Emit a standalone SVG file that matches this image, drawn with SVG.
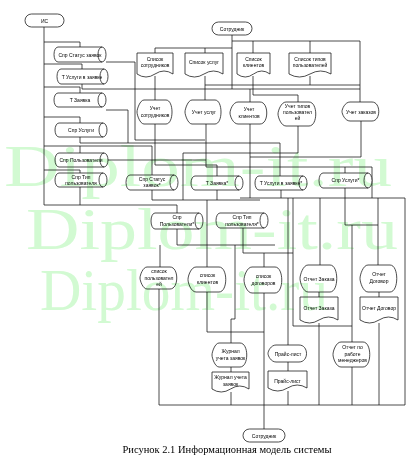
<svg xmlns="http://www.w3.org/2000/svg" width="410" height="460" viewBox="0 0 410 460">
<style>
.n{fill:#fff;stroke:#111;stroke-width:0.75}
.c{fill:none;stroke:#111;stroke-width:0.75}
.t{font-family:"Liberation Sans",Arial,sans-serif;font-size:5px;text-anchor:middle;fill:#000}
.wm{font-family:"Liberation Serif","Times New Roman",serif;font-size:60px;fill:#d2fad2;mix-blend-mode:multiply}
.cap{font-family:"Liberation Serif","Times New Roman",serif;font-size:10.5px;text-anchor:middle;fill:#000}
</style>
<rect width="410" height="460" fill="#fff"/>
<g id="connectors">
<path class="c" d="M44,27 V205 H177 V213"/>
<path class="c" d="M44,42 H80 V47"/>
<path class="c" d="M44,64 H82 V69"/>
<path class="c" d="M44,87 H80 V93"/>
<path class="c" d="M44,117 H80 V123"/>
<path class="c" d="M44,146 H152 V175"/>
<path class="c" d="M80,146 V153"/>
<path class="c" d="M44,170 H80 V173"/>
<path class="c" d="M80,187 V205"/>
<path class="c" d="M232,35 V48 H155 V53"/>
<path class="c" d="M205,48 V53"/>
<path class="c" d="M232,41 H360 V102"/>
<path class="c" d="M253,41 V53"/>
<path class="c" d="M310,41 V53"/>
<path class="c" d="M232,48 V89"/>
<path class="c" d="M155,76 V100"/>
<path class="c" d="M205,76 V100"/>
<path class="c" d="M253,76 V95 H298 V102"/>
<path class="c" d="M250,89 V102"/>
<path class="c" d="M310,76 V85"/>
<path class="c" d="M106,62 H135 V140 H205"/>
<path class="c" d="M82,84 V89 H360"/>
<path class="c" d="M205,85 H360"/>
<path class="c" d="M106,110 H128 V143"/>
<path class="c" d="M80,137 V143 H280 V176"/>
<path class="c" d="M108,160 H206 V124"/>
<path class="c" d="M155,124 V165 H217 V176"/>
<path class="c" d="M250,124 V198"/>
<path class="c" d="M298,126 V153 H183 V200"/>
<path class="c" d="M361,121 V157 H250"/>
<path class="c" d="M206,160 V167 H372 V198"/>
<path class="c" d="M345,167 V173"/>
<path class="c" d="M152,190 V200 H260"/>
<path class="c" d="M217,190 V200"/>
<path class="c" d="M240,198 H405 V405"/>
<path class="c" d="M281,190 V198"/>
<path class="c" d="M345,188 V225 H378"/>
<path class="c" d="M378,198 V265"/>
<path class="c" d="M177,229 V245 H275"/>
<path class="c" d="M160,245 V267"/>
<path class="c" d="M207,200 V267"/>
<path class="c" d="M207,292 V332 H264"/>
<path class="c" d="M243,228 V253 H293 V198"/>
<path class="c" d="M264,253 V267"/>
<path class="c" d="M264,293 V429"/>
<path class="c" d="M235,245 V319 H231 V343"/>
<path class="c" d="M231,367 V372"/>
<path class="c" d="M231,392 V405"/>
<path class="c" d="M288,198 V345"/>
<path class="c" d="M288,362 V371"/>
<path class="c" d="M288,391 V405"/>
<path class="c" d="M320,198 V265"/>
<path class="c" d="M319,292 V297"/>
<path class="c" d="M319,323 V405"/>
<path class="c" d="M379,292 V297"/>
<path class="c" d="M379,323 V405"/>
<path class="c" d="M352,225 V342"/>
<path class="c" d="M352,367 V405"/>
<path class="c" d="M293,253 V326 H352"/>
<path class="c" d="M159,289 V405"/>
<path class="c" d="M159,405 H405"/>
</g>
<g id="is"><rect class="n" x="25" y="14" width="39" height="13" rx="6.5"/><text class="t" x="44.5" y="22.5">ИС</text></g>
<g id="sotrudnik-top"><rect class="n" x="212" y="22" width="40" height="13" rx="6.5"/><text class="t" x="232" y="30.5">Сотрудник</text></g>
<g id="spr-status"><path class="n" d="M58,47 H102 A4,7.5 0 0 1 102,62 H58 A4,7.5 0 0 1 58,47 Z M102,47 A4,7.5 0 0 0 102,62"/><text class="t" x="80" y="56.5">Спр Статус заявок</text></g>
<g id="t-uslugi"><path class="n" d="M61,69 H104 A4,7.5 0 0 1 104,84 H61 A4,7.5 0 0 1 61,69 Z M104,69 A4,7.5 0 0 0 104,84"/><text class="t" x="82" y="78.5">Т Услуги в заявке</text></g>
<g id="t-zayavka"><path class="n" d="M58,93 H102 A4,7 0 0 1 102,107 H58 A4,7 0 0 1 58,93 Z M102,93 A4,7 0 0 0 102,107"/><text class="t" x="80" y="101.5">Т Заявка</text></g>
<g id="spr-uslugi"><path class="n" d="M59,123 H103 A4,7 0 0 1 103,137 H59 A4,7 0 0 1 59,123 Z M103,123 A4,7 0 0 0 103,137"/><text class="t" x="81" y="131.5">Спр Услуги</text></g>
<g id="spr-polz"><path class="n" d="M59,153 H104 A4,7 0 0 1 104,167 H59 A4,7 0 0 1 59,153 Z M104,153 A4,7 0 0 0 104,167"/><text class="t" x="81" y="161.5">Спр Пользователи</text></g>
<g id="spr-tip"><path class="n" d="M59,173 H103 A4,7 0 0 1 103,187 H59 A4,7 0 0 1 59,173 Z M103,173 A4,7 0 0 0 103,187"/><text class="t" x="81" y="179">Спр Тип</text><text class="t" x="81" y="185">пользователя</text></g>
<g id="doc-sotr"><path class="n" d="M137,53 H173 V74 Q164,68 155,74 Q146,80 137,74 Z"/><text class="t" x="155" y="61">Список</text><text class="t" x="155" y="67">сотрудников</text></g>
<g id="doc-uslug"><path class="n" d="M185,53 H223 V74 Q213.5,68 204,74 Q194.5,80 185,74 Z"/><text class="t" x="204" y="64">Список услуг</text></g>
<g id="doc-klient"><path class="n" d="M237,53 H270 V74 Q261.75,68 253.5,74 Q245.25,80 237,74 Z"/><text class="t" x="253.5" y="61">Список</text><text class="t" x="253.5" y="67">клиентов</text></g>
<g id="doc-tipov"><path class="n" d="M289,53 H331 V74 Q320.5,68 310,74 Q299.5,80 289,74 Z"/><text class="t" x="310" y="61">Список типов</text><text class="t" x="310" y="67">пользователей</text></g>
<g id="uchet-sotr"><path class="n" d="M144,100 H166 C174,100 174,124 166,124 H144 C140,124 137,115 137,112 C137,109 140,100 144,100 Z"/><text class="t" x="155" y="110">Учет</text><text class="t" x="155" y="117">сотрудников</text></g>
<g id="uchet-uslug"><path class="n" d="M192,100 H215 C223,100 223,124 215,124 H192 C188,124 185,115 185,112 C185,109 188,100 192,100 Z"/><text class="t" x="204" y="114">Учет услуг</text></g>
<g id="uchet-klient"><path class="n" d="M238,102 H260 C269,102 269,124 260,124 H238 C233,124 230,116 230,113 C230,110 233,102 238,102 Z"/><text class="t" x="249" y="111">Учет</text><text class="t" x="249" y="118">клиентов</text></g>
<g id="uchet-tipov"><path class="n" d="M286,102 H309 C318,102 318,126 309,126 H286 C281,126 278,117 278,114 C278,111 281,102 286,102 Z"/><text class="t" x="297.5" y="108">Учет типов</text><text class="t" x="297.5" y="114">пользовател</text><text class="t" x="297.5" y="120">ей</text></g>
<g id="uchet-zakaz"><path class="n" d="M350,102 H372 C381,102 381,121 372,121 H350 C345,121 342,114 342,111.5 C342,109 345,102 350,102 Z"/><text class="t" x="361" y="113.5">Учет заказов</text></g>
<g id="spr-status2"><path class="n" d="M130,175 H174 A4,7.5 0 0 1 174,190 H130 A4,7.5 0 0 1 130,175 Z M174,175 A4,7.5 0 0 0 174,190"/><text class="t" x="152" y="181">Спр Статус</text><text class="t" x="152" y="187">заявок*</text></g>
<g id="t-zayavka2"><path class="n" d="M195,176 H239 A4,7 0 0 1 239,190 H195 A4,7 0 0 1 195,176 Z M239,176 A4,7 0 0 0 239,190"/><text class="t" x="217" y="184.5">Т Заявка*</text></g>
<g id="t-uslugi2"><path class="n" d="M259,176 H303 A4,7 0 0 1 303,190 H259 A4,7 0 0 1 259,176 Z M303,176 A4,7 0 0 0 303,190"/><text class="t" x="281" y="184.5">Т Услуги в заявке*</text></g>
<g id="spr-uslugi2"><path class="n" d="M323,173 H368 A4,7.5 0 0 1 368,188 H323 A4,7.5 0 0 1 323,173 Z M368,173 A4,7.5 0 0 0 368,188"/><text class="t" x="345.5" y="182">Спр Услуги*</text></g>
<g id="spr-polz2"><path class="n" d="M155,213 H199 A4,8 0 0 1 199,229 H155 A4,8 0 0 1 155,213 Z M199,213 A4,8 0 0 0 199,229"/><text class="t" x="177" y="219">Спр</text><text class="t" x="177" y="226">Пользователи*</text></g>
<g id="spr-tip2"><path class="n" d="M220,213 H264 A4,7.5 0 0 1 264,228 H220 A4,7.5 0 0 1 220,213 Z M264,213 A4,7.5 0 0 0 264,228"/><text class="t" x="242" y="219">Спр Тип</text><text class="t" x="242" y="225.5">пользователя*</text></g>
<g id="spisok-polz"><path class="n" d="M147,267 H170 C179,267 179,289 170,289 H147 C143,289 140,281 140,278 C140,275 143,267 147,267 Z"/><text class="t" x="159" y="273">список</text><text class="t" x="159" y="279.5">пользовател</text><text class="t" x="159" y="286">ей</text></g>
<g id="spisok-klient"><path class="n" d="M196,267 H219 C228,267 228,292 219,292 H196 C191,292 188,283 188,279.5 C188,276 191,267 196,267 Z"/><text class="t" x="207.5" y="277">список</text><text class="t" x="207.5" y="284">клиентов</text></g>
<g id="spisok-dogovor"><path class="n" d="M252,267 H275 C284,267 284,293 275,293 H252 C247,293 244,284 244,280 C244,276 247,267 252,267 Z"/><text class="t" x="263.5" y="277.5">список</text><text class="t" x="263.5" y="284.5">договоров</text></g>
<g id="otchet-zakaz"><path class="n" d="M308,265 H330 C339,265 339,292 330,292 H308 C303,292 300,282 300,278.5 C300,275 303,265 308,265 Z"/><text class="t" x="319" y="280.5">Отчет Заказа</text></g>
<g id="otchet-dogovor"><path class="n" d="M368,265 H390 C399,265 399,292 390,292 H368 C363,292 360,282 360,278.5 C360,275 363,265 368,265 Z"/><text class="t" x="379" y="276">Отчет</text><text class="t" x="379" y="283">Договор</text></g>
<g id="doc-otchet-zakaz"><path class="n" d="M300,297 H338 V320 Q328.5,314 319,320 Q309.5,326 300,320 Z"/><text class="t" x="319" y="310">Отчет Заказа</text></g>
<g id="doc-otchet-dogovor"><path class="n" d="M360,297 H398 V320 Q388.5,314 379,320 Q369.5,326 360,320 Z"/><text class="t" x="379" y="310">Отчет Договор</text></g>
<g id="zhurnal"><path class="n" d="M219,343 H240 C249,343 249,367 240,367 H219 C215,367 212,358 212,355 C212,352 215,343 219,343 Z"/><text class="t" x="230.5" y="353">Журнал</text><text class="t" x="230.5" y="360">учета заявок</text></g>
<g id="doc-zhurnal"><path class="n" d="M212,372 H249 V389 Q239.75,383 230.5,389 Q221.25,395 212,389 Z"/><text class="t" x="230.5" y="379">Журнал учета</text><text class="t" x="230.5" y="386">заявок</text></g>
<g id="prays"><path class="n" d="M276,345 H299 C309,345 309,362 299,362 H276 C271,362 268,356 268,353.5 C268,351 271,345 276,345 Z"/><text class="t" x="288" y="355.5">Прайс-лист</text></g>
<g id="doc-prays"><path class="n" d="M268,371 H307 V388 Q297.25,382 287.5,388 Q277.75,394 268,388 Z"/><text class="t" x="287.5" y="382.5">Прайс-лист</text></g>
<g id="otchet-menedzh"><path class="n" d="M341,342 H363 C372,342 372,367 363,367 H341 C336,367 333,358 333,354.5 C333,351 336,342 341,342 Z"/><text class="t" x="352.5" y="349">Отчет по</text><text class="t" x="352.5" y="355.5">работе</text><text class="t" x="352.5" y="362">менеджеров</text></g>
<g id="sotrudnik-bottom"><rect class="n" x="243" y="429" width="42" height="13" rx="6.5"/><text class="t" x="264" y="437.5">Сотрудник</text></g>
<text class="cap" x="227" y="453">Рисунок 2.1 Информационная модель системы</text>
<g id="watermark">
<text class="wm" x="4" y="186" textLength="388" lengthAdjust="spacingAndGlyphs">Diplom-it.ru</text>
<text class="wm" x="26" y="249" textLength="372" lengthAdjust="spacingAndGlyphs">Diplom-it.ru</text>
<text class="wm" x="40" y="310" textLength="288" lengthAdjust="spacingAndGlyphs">Diplom-it.ru</text>
</g>
</svg>
